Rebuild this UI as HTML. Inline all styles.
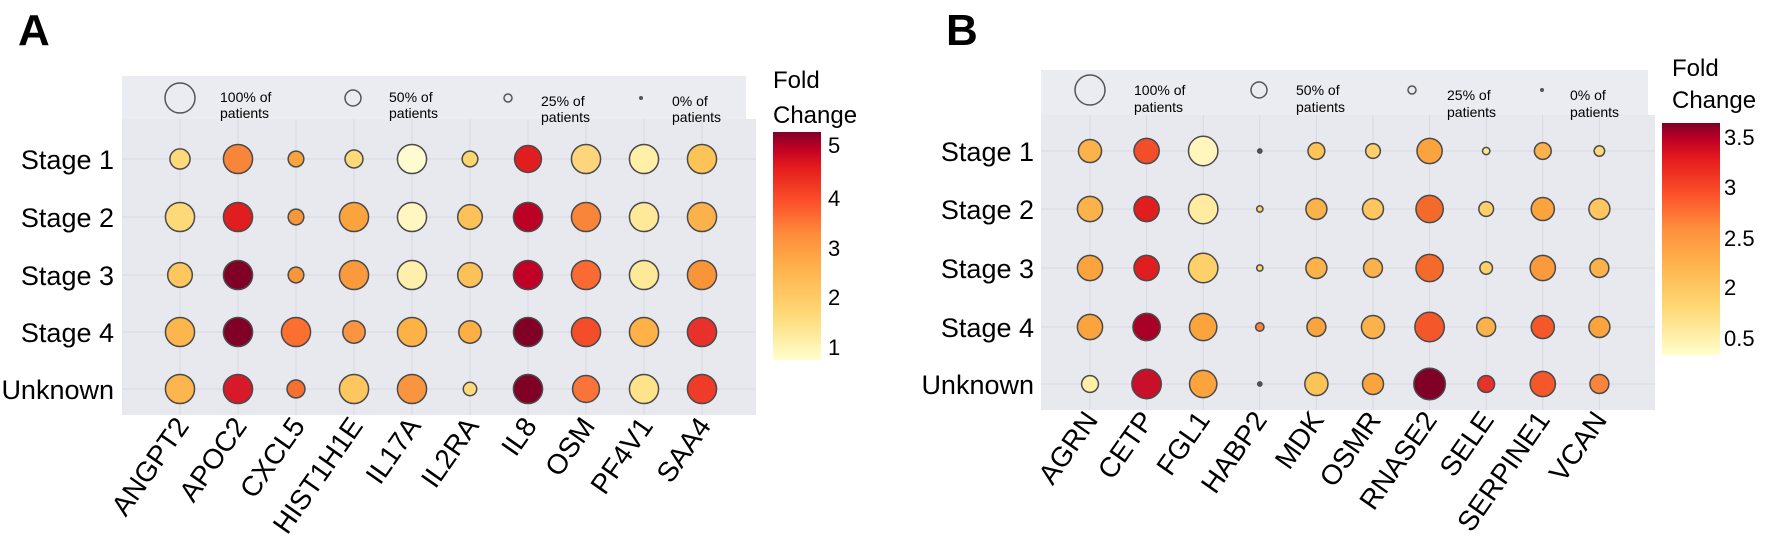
<!DOCTYPE html>
<html><head><meta charset="utf-8"><style>
html,body{margin:0;padding:0;background:#fff;}
svg{display:block;font-family:"Liberation Sans",Arial,sans-serif;}
</style></head><body>
<svg id="s" width="1770" height="541" viewBox="0 0 1770 541" xmlns="http://www.w3.org/2000/svg">
<defs>
<linearGradient id="cb" x1="0" y1="1" x2="0" y2="0">
<stop offset="0" stop-color="#ffffcc"/><stop offset="0.2" stop-color="#fed976"/><stop offset="0.4" stop-color="#feb24c"/><stop offset="0.55" stop-color="#fd8d3c"/><stop offset="0.7" stop-color="#fc4e2a"/><stop offset="0.85" stop-color="#e31a1c"/><stop offset="0.93" stop-color="#bd0026"/><stop offset="1" stop-color="#800026"/>
</linearGradient>
</defs>
<text x="18" y="45" font-size="44" font-weight="bold">A</text>
<text x="946" y="45" font-size="44" font-weight="bold">B</text>
<!-- Panel A bg -->
<rect x="122" y="76" width="624" height="43" fill="#ebebf2"/>
<rect x="122" y="119" width="634" height="296" fill="#e8e8ef"/>
<g id="gA"></g>
<g font-size="14">
<circle cx="180" cy="98" r="15" fill="none" stroke="#555" stroke-width="1.5"/>
<text x="220" y="102">100% of</text><text x="220" y="118">patients</text>
<circle cx="353" cy="98" r="8" fill="none" stroke="#555" stroke-width="1.5"/>
<text x="389" y="102">50% of</text><text x="389" y="118">patients</text>
<circle cx="508" cy="98" r="4" fill="none" stroke="#555" stroke-width="1.5"/>
<text x="541" y="106">25% of</text><text x="541" y="122">patients</text>
<circle cx="641" cy="98" r="2" fill="#555"/>
<text x="672" y="106">0% of</text><text x="672" y="122">patients</text>
</g>
<g font-size="27" text-anchor="end">
<text x="114" y="169">Stage 1</text><text x="114" y="227">Stage 2</text><text x="114" y="285">Stage 3</text><text x="114" y="342">Stage 4</text><text x="114" y="399">Unknown</text>
</g>
<g font-size="28" text-anchor="end">
<text transform="translate(190,426) rotate(-55)">ANGPT2</text>
<text transform="translate(248,426) rotate(-55)">APOC2</text>
<text transform="translate(306,426) rotate(-55)">CXCL5</text>
<text transform="translate(364,426) rotate(-55)">HIST1H1E</text>
<text transform="translate(422,426) rotate(-55)">IL17A</text>
<text transform="translate(480,426) rotate(-55)">IL2RA</text>
<text transform="translate(538,426) rotate(-55)">IL8</text>
<text transform="translate(596,426) rotate(-55)">OSM</text>
<text transform="translate(654,426) rotate(-55)">PF4V1</text>
<text transform="translate(712,426) rotate(-55)">SAA4</text>
</g>
<text x="773" y="88" font-size="24">Fold</text>
<text x="773" y="123" font-size="24">Change</text>
<rect x="773" y="132" width="48" height="228" fill="url(#cb)"/>
<g font-size="22"><text x="828" y="153">5</text><text x="828" y="206">4</text><text x="828" y="256">3</text><text x="828" y="305">2</text><text x="828" y="355">1</text></g>

<!-- Panel B -->
<rect x="1041" y="70" width="607" height="45" fill="#ebebf2"/>
<rect x="1041" y="115" width="614" height="295" fill="#e8e8ef"/>
<g id="gB"></g>
<g font-size="14">
<circle cx="1090" cy="90" r="15" fill="none" stroke="#555" stroke-width="1.5"/>
<text x="1134" y="95">100% of</text><text x="1134" y="112">patients</text>
<circle cx="1259" cy="90" r="8" fill="none" stroke="#555" stroke-width="1.5"/>
<text x="1296" y="95">50% of</text><text x="1296" y="112">patients</text>
<circle cx="1412" cy="90" r="4" fill="none" stroke="#555" stroke-width="1.5"/>
<text x="1447" y="100">25% of</text><text x="1447" y="117">patients</text>
<circle cx="1542" cy="90" r="2" fill="#555"/>
<text x="1570" y="100">0% of</text><text x="1570" y="117">patients</text>
</g>
<g font-size="27" text-anchor="end">
<text x="1034" y="161">Stage 1</text><text x="1034" y="219">Stage 2</text><text x="1034" y="278">Stage 3</text><text x="1034" y="337">Stage 4</text><text x="1034" y="394">Unknown</text>
</g>
<g font-size="28" text-anchor="end">
<text transform="translate(1099,420) rotate(-55)">AGRN</text>
<text transform="translate(1155,420) rotate(-55)">CETP</text>
<text transform="translate(1211,420) rotate(-55)">FGL1</text>
<text transform="translate(1268,420) rotate(-55)">HABP2</text>
<text transform="translate(1325,420) rotate(-55)">MDK</text>
<text transform="translate(1382,420) rotate(-55)">OSMR</text>
<text transform="translate(1438,420) rotate(-55)">RNASE2</text>
<text transform="translate(1495,420) rotate(-55)">SELE</text>
<text transform="translate(1551,420) rotate(-55)">SERPINE1</text>
<text transform="translate(1608,420) rotate(-55)">VCAN</text>
</g>
<text x="1672" y="76" font-size="24">Fold</text>
<text x="1672" y="108" font-size="24">Change</text>
<rect x="1662" y="123" width="58" height="232" fill="url(#cb)"/>
<g font-size="22"><text x="1724" y="145">3.5</text><text x="1724" y="195">3</text><text x="1724" y="246">2.5</text><text x="1724" y="295">2</text><text x="1724" y="346">0.5</text></g>
</svg>
<script>
var NS="http://www.w3.org/2000/svg";
function draw(gid,cols,rows,x0,x1,y0,y1,data,sc){
 var g=document.getElementById(gid);
 function el(t,a){var e=document.createElementNS(NS,t);for(var k in a)e.setAttribute(k,a[k]);g.appendChild(e);}
 cols.forEach(function(c){el("line",{x1:c,x2:c,y1:y0,y2:y1,stroke:"#d8d8e0","stroke-width":1});});
 rows.forEach(function(r){el("line",{x1:x0,x2:x1,y1:r,y2:r,stroke:"#d8d8e0","stroke-width":1});});
 data.forEach(function(row,i){row.forEach(function(d,j){
  el("circle",{cx:cols[j],cy:rows[i],r:d[1]*sc,fill:d[0],stroke:"#4a4a4a","stroke-width":1.5});});});
}
var cA=[],cB=[];for(var i=0;i<10;i++){cA.push(180+58*i);cB.push(1090+56.6*i);}
var A=[
[["#fdd97a",9],["#f9853a",13],["#f8a33c",7],["#fdd97a",8],["#fffbd0",13],["#fcd56e",7],["#e01d1f",12],["#fed57a",13],["#fff0a8",13],["#fcc456",13]],
[["#fdd97a",13],["#e01d1f",13],["#f8963a",7],["#fba43e",13],["#fff6c0",13],["#fdc15a",11],["#bd0026",13],["#f9853a",13],["#fee999",13],["#fcb24a",13]],
[["#fdc65f",11],["#800026",13],["#f8963a",7],["#fa9a3c",13],["#ffefad",13],["#fdc15a",11],["#c00025",13],["#fb6a32",13],["#fee999",13],["#f99538",13]],
[["#fdb54d",13],["#800026",13],["#fb702f",13],["#f99540",10],["#fdb245",13],["#fcaf45",10],["#800026",13],["#f44d2a",13],["#fdb147",13],["#e8312a",13]],
[["#fdb54d",13],["#d7192a",13],["#f4702f",8],["#fdc65f",13],["#f9953e",13],["#fdd97a",6],["#800026",13],["#f8743a",12],["#fee38a",13],["#ee3c28",13]]];
var B=[
[["#fcb24a",11],["#f44d2a",12],["#fff5bd",14],["#555",2],["#fcc456",8],["#fdd06a",7],["#fba43e",12],["#fee68f",3.5],["#fcb24a",8],["#fdd97a",5]],
[["#fcb24a",12],["#e01d1f",12],["#ffeca0",14],["#fdd06a",3],["#fcb24a",10],["#fdc65f",10],["#f46a2a",13],["#fdd06a",7],["#fba43e",11],["#fdc65f",10]],
[["#fba43e",12],["#e01d1f",12],["#fdd06a",14],["#fdd06a",3],["#fcb24a",10],["#fcb24a",9],["#f46a2a",13],["#fdd06a",6],["#fa9a3c",12],["#fcb24a",9]],
[["#fba43e",12],["#a80026",13],["#fba43e",13],["#f8853a",4],["#fba43e",9],["#fcb24a",11],["#f4582a",14],["#fcb24a",9],["#f4582a",11],["#fba43e",10]],
[["#fff0a8",8],["#c8102a",14],["#fba43e",13],["#555",2],["#fcc456",11],["#fba43e",10],["#800026",15],["#e8312a",8],["#f4582a",12],["#f8853a",9]]];
draw("gA",cA,[159,217,275,332,389],122,756,119,415,A,1.12);
draw("gB",cB,[151,209,268,327,384],1041,1655,115,410,B,1.05);
</script>
</body></html>
